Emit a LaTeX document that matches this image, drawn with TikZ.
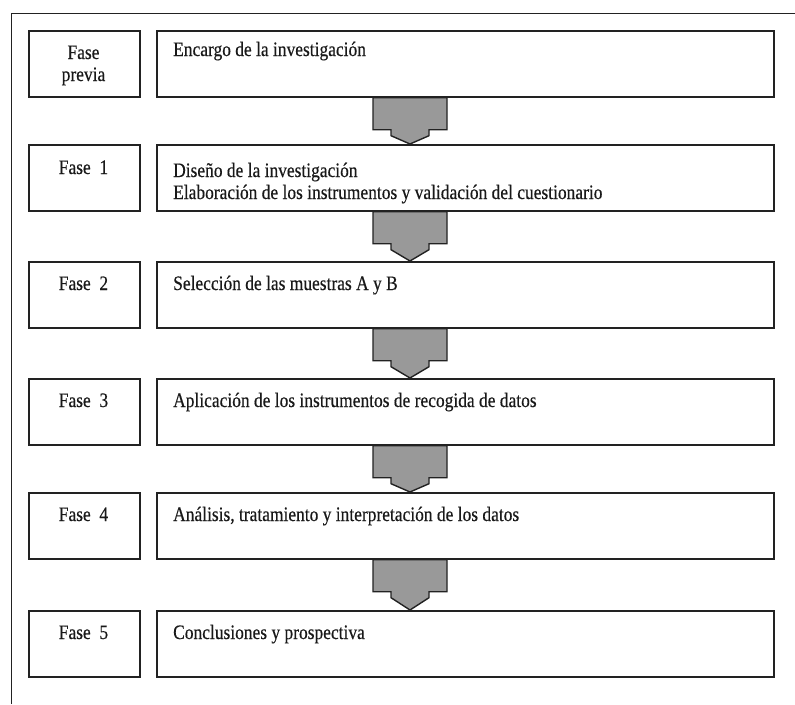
\documentclass[tikz,border=0pt]{standalone}
\usepackage{fontspec}
\setmainfont{Liberation Serif}[FakeStretch=0.85,FakeBold=0.4]
\usetikzlibrary{calc}
\definecolor{linec}{HTML}{222222}
\definecolor{arrowgray}{HTML}{999999}
\tikzset{
  phasebox/.style={draw=linec, line width=1.7pt, inner sep=0pt, anchor=north west, minimum height=66pt},
  smallbox/.style={phasebox, minimum width=111pt},
  bigbox/.style={phasebox, minimum width=617pt},
  lbl/.style={font=\fontsize{20.5}{22}\selectfont, inner sep=0pt, text=black!90},
  arrowst/.style={draw=linec, line width=1.4pt, fill=arrowgray, line join=miter}
}
\newcommand\flowarrow[2]{%
  \draw[arrowst] ($(#1.south west)+(217,0)$) -- ++(74,0) -- ++(0,32) -- ++(-18,0) -- ++(0,6)
    -- ($(#2.north west)+(254,0)$) -- ($(#1.south west)+(235,38)$) -- ++(0,-6) -- ++(-18,0) -- cycle;}
\begin{document}
\begin{tikzpicture}[x=1pt,y=-1pt]
\useasboundingbox (0,0) rectangle (795,704);
\draw[linec, line width=1.8pt] (11.5,704) -- (11.5,13.5) -- (795,13.5);
% boxes
\node[smallbox] (s0) at (28,30) {};
\node[bigbox]   (b0) at (156,30) {};
\node[smallbox] (s1) at (28,144) {};
\node[bigbox]   (b1) at (156,144) {};
\node[smallbox] (s2) at (28,261) {};
\node[bigbox]   (b2) at (156,261) {};
\node[smallbox] (s3) at (28,378) {};
\node[bigbox]   (b3) at (156,378) {};
\node[smallbox] (s4) at (28,492) {};
\node[bigbox]   (b4) at (156,492) {};
\node[smallbox] (s5) at (28,610) {};
\node[bigbox]   (b5) at (156,610) {};
% labels
\node[lbl, anchor=base, align=center] (l0) at (83.5,81) {Fase\\previa};
\node[lbl, anchor=base west] (t0) at (173,56) {Encargo de la investigación};
\node[lbl, anchor=base] (l1) at (83.5,174) {Fase\ \ 1};
\node[lbl, anchor=base west, align=left] (t1) at (173,199) {Diseño de la investigación\\Elaboración de los instrumentos y validación del cuestionario};
\node[lbl, anchor=base] (l2) at (83.5,290) {Fase\ \ 2};
\node[lbl, anchor=base west] (t2) at (173,290) {Selección de las muestras A y B};
\node[lbl, anchor=base] (l3) at (83.5,407) {Fase\ \ 3};
\node[lbl, anchor=base west] (t3) at (173,407) {Aplicación de los instrumentos de recogida de datos};
\node[lbl, anchor=base] (l4) at (83.5,521) {Fase\ \ 4};
\node[lbl, anchor=base west] (t4) at (173,521) {Análisis, tratamiento y interpretación de los datos};
\node[lbl, anchor=base] (l5) at (83.5,639) {Fase\ \ 5};
\node[lbl, anchor=base west] (t5) at (173,639) {Conclusiones y prospectiva};
% arrows
\flowarrow{b0}{b1}
\flowarrow{b1}{b2}
\flowarrow{b2}{b3}
\flowarrow{b3}{b4}
\flowarrow{b4}{b5}
\end{tikzpicture}
\end{document}
